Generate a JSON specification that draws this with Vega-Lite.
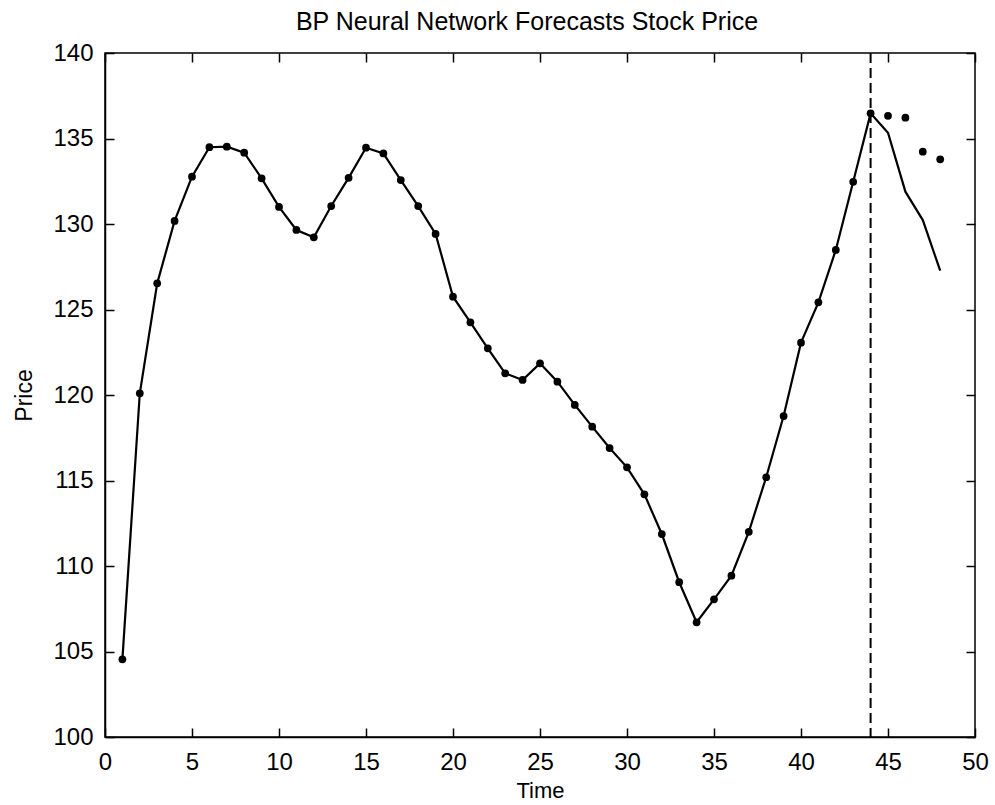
{
  "$schema": "https://vega.github.io/schema/vega-lite/v6.json",
  "width": 870,
  "height": 684,
  "autosize": {"type": "none"},
  "padding": {"left": 105, "top": 53, "right": 20, "bottom": 68},
  "background": "white",
  "title": {
    "text": "BP Neural Network Forecasts Stock Price",
    "font": "Liberation Sans",
    "fontSize": 25,
    "fontWeight": "normal",
    "color": "black",
    "anchor": "middle",
    "frame": "group",
    "baseline": "bottom",
    "offset": -19,
    "dx": -13
  },
  "datasets": {
    "series": [
      {"t": 1, "actual": 104.54, "model": 104.54},
      {"t": 2, "actual": 120.1, "model": 120.1},
      {"t": 3, "actual": 126.53, "model": 126.53},
      {"t": 4, "actual": 130.18, "model": 130.18},
      {"t": 5, "actual": 132.77, "model": 132.77},
      {"t": 6, "actual": 134.49, "model": 134.49},
      {"t": 7, "actual": 134.52, "model": 134.52},
      {"t": 8, "actual": 134.17, "model": 134.17},
      {"t": 9, "actual": 132.67, "model": 132.67},
      {"t": 10, "actual": 131.0, "model": 131.0},
      {"t": 11, "actual": 129.65, "model": 129.65},
      {"t": 12, "actual": 129.22, "model": 129.22},
      {"t": 13, "actual": 131.05, "model": 131.05},
      {"t": 14, "actual": 132.7, "model": 132.7},
      {"t": 15, "actual": 134.46, "model": 134.46},
      {"t": 16, "actual": 134.13, "model": 134.13},
      {"t": 17, "actual": 132.57, "model": 132.57},
      {"t": 18, "actual": 131.05, "model": 131.05},
      {"t": 19, "actual": 129.42, "model": 129.42},
      {"t": 20, "actual": 125.75, "model": 125.75},
      {"t": 21, "actual": 124.25, "model": 124.25},
      {"t": 22, "actual": 122.73, "model": 122.73},
      {"t": 23, "actual": 121.27, "model": 121.27},
      {"t": 24, "actual": 120.88, "model": 120.88},
      {"t": 25, "actual": 121.85, "model": 121.85},
      {"t": 26, "actual": 120.78, "model": 120.78},
      {"t": 27, "actual": 119.42, "model": 119.42},
      {"t": 28, "actual": 118.15, "model": 118.15},
      {"t": 29, "actual": 116.9, "model": 116.9},
      {"t": 30, "actual": 115.77, "model": 115.77},
      {"t": 31, "actual": 114.19, "model": 114.19},
      {"t": 32, "actual": 111.87, "model": 111.87},
      {"t": 33, "actual": 109.05, "model": 109.05},
      {"t": 34, "actual": 106.71, "model": 106.71},
      {"t": 35, "actual": 108.05, "model": 108.05},
      {"t": 36, "actual": 109.43, "model": 109.43},
      {"t": 37, "actual": 112.0, "model": 112.0},
      {"t": 38, "actual": 115.19, "model": 115.19},
      {"t": 39, "actual": 118.77, "model": 118.77},
      {"t": 40, "actual": 123.06, "model": 123.06},
      {"t": 41, "actual": 125.42, "model": 125.42},
      {"t": 42, "actual": 128.48, "model": 128.48},
      {"t": 43, "actual": 132.47, "model": 132.47},
      {"t": 44, "actual": 136.47, "model": 136.47},
      {"t": 45, "actual": 136.33, "model": 135.34},
      {"t": 46, "actual": 136.22, "model": 131.89},
      {"t": 47, "actual": 134.23, "model": 130.23},
      {"t": 48, "actual": 133.78, "model": 127.27}
    ],
    "marker": [{"t": 44}]
  },
  "config": {
    "view": {"stroke": "black", "strokeWidth": 1.5},
    "axis": {
      "grid": false,
      "domainColor": "black",
      "domainWidth": 1.5,
      "tickColor": "black",
      "tickWidth": 1.5,
      "tickSize": -9,
      "labelColor": "black",
      "labelFont": "Liberation Sans",
      "labelFontSize": 24,
      "titleFont": "Liberation Sans",
      "titleFontSize": 22,
      "titleFontWeight": "normal",
      "titleColor": "black",
      "labelFlush": false,
      "labelOverlap": false
    }
  },
  "resolve": {"axis": {"x": "independent", "y": "independent"}},
  "layer": [
    {
      "data": {"name": "series"},
      "mark": {"type": "line", "color": "black", "strokeWidth": 2.2},
      "encoding": {
        "x": {
          "field": "t", "type": "quantitative",
          "scale": {"domain": [0, 50], "nice": false, "zero": false},
          "axis": {"orient": "bottom", "values": [0,5,10,15,20,25,30,35,40,45,50], "title": "Time", "labelPadding": 22, "titlePadding": 6}
        },
        "y": {
          "field": "model", "type": "quantitative",
          "scale": {"domain": [100, 140], "nice": false, "zero": false},
          "axis": {"orient": "left", "values": [100,105,110,115,120,125,130,135,140], "title": "Price", "labelPadding": 21, "titlePadding": 16, "titleFontSize": 23}
        }
      }
    },
    {
      "data": {"name": "series"},
      "mark": {"type": "point", "filled": true, "color": "black", "size": 60, "opacity": 1},
      "encoding": {
        "x": {
          "field": "t", "type": "quantitative",
          "scale": {"domain": [0, 50], "nice": false, "zero": false},
          "axis": {"orient": "top", "values": [0,5,10,15,20,25,30,35,40,45,50], "labels": false, "title": null, "domain": false}
        },
        "y": {
          "field": "actual", "type": "quantitative",
          "scale": {"domain": [100, 140], "nice": false, "zero": false},
          "axis": {"orient": "right", "values": [100,105,110,115,120,125,130,135,140], "labels": false, "title": null, "domain": false}
        }
      }
    },
    {
      "data": {"name": "marker"},
      "mark": {"type": "rule", "color": "black", "strokeWidth": 2, "strokeDash": [10, 5]},
      "encoding": {
        "x": {"field": "t", "type": "quantitative", "axis": null}
      }
    }
  ]
}
